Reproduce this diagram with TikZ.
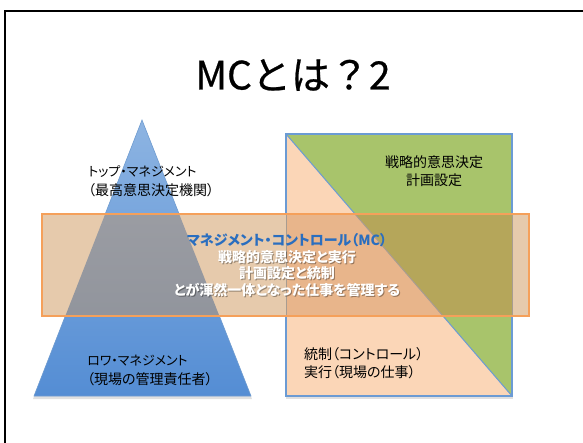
\documentclass[tikz,border=0pt]{standalone}
\usepackage{fontspec}
\newfontfamily\jp{Noto Sans CJK JP}[RawFeature=+palt]
\newfontfamily\jptitle{Noto Sans CJK JP}[FakeBold=0.6]
\definecolor{tritop}{HTML}{8DB4E2}
\definecolor{tribot}{HTML}{548DD4}
\definecolor{triline}{HTML}{6E9BD0}
\definecolor{peach}{HTML}{FBD6B7}
\definecolor{leaf}{HTML}{A8C46B}
\definecolor{rectline}{HTML}{6B9BD4}
\definecolor{bandfill}{HTML}{E6CAAC}
\definecolor{bandline}{HTML}{F5A05A}
\definecolor{graytop}{HTML}{A3A3A8}
\definecolor{graybot}{HTML}{8A8F98}
\definecolor{peachdark}{HTML}{E8B58B}
\definecolor{olive}{HTML}{B5A65A}
\definecolor{mcblue}{HTML}{2A6EBF}
\definecolor{muted}{HTML}{A89C90}
\newcommand\bigline[1]{{\fontsize{14}{19}\selectfont #1}}
\tikzset{
  lbl/.style={font=\jp\fontsize{13}{19}\selectfont, inner sep=0pt, text=black},
  lblr/.style={font=\jp\fontsize{14}{18.5}\selectfont, inner sep=0pt, text=black},
  bandtxt/.style={font=\jp\bfseries\fontsize{14}{16.7}\selectfont, inner sep=0pt, align=center},
  shadowshape/.style={fill=black, opacity=0.12},
}
\begin{document}
\begin{tikzpicture}[x=1pt,y=-1pt]
\useasboundingbox (0,0) rectangle (583,442);
\fill[white] (0,0) rectangle (583,442);
% slide frame
\draw[line width=2.5pt] (5,11) rectangle (600,470);
% title
\node[font=\jptitle\fontsize{39}{44}\selectfont, inner sep=0pt] (title) at (293,75) {MCとは？2};
% pyramid
\fill[shadowshape] (142,122) -- (252,399) -- (33,399) -- cycle;
\shade[top color=tritop, bottom color=tribot] (142,120) -- (251,396) -- (34,396) -- cycle;
\draw[triline, line width=0.6pt] (142,120) -- (251,396) -- (34,396) -- cycle;
% right square
\fill[shadowshape] (286,136) rectangle (513,399);
\fill[peach] (286,134) -- (512,396) -- (286,396) -- cycle;
\fill[leaf] (286,134) -- (512,134) -- (512,396) -- cycle;
\draw[rectline, line width=1.2pt] (286,134) rectangle (512,396);
\draw[rectline, line width=1pt] (286,134) -- (512,396);
% band
\fill[bandfill] (42,214) rectangle (529,316);
\begin{scope}
  \clip (42,214) rectangle (529,316);
  \shade[top color=graytop, bottom color=graybot] (142,120) -- (251,396) -- (34,396) -- cycle;
  \fill[peachdark] (286,134) -- (512,396) -- (286,396) -- cycle;
  \fill[olive] (286,134) -- (512,134) -- (512,396) -- cycle;
  \draw[muted, line width=1pt] (286,134) -- (286,396);
  \draw[muted, line width=1pt] (512,134) -- (512,396);
  \draw[muted, line width=1pt] (286,134) -- (512,396);
\end{scope}
\draw[bandline, line width=1.5pt] (42,214) rectangle (529,316);
% labels
\node[lbl, anchor=west, align=left] (toplbl) at (88,181.5) {トップ・マネジメント\\\bigline{（最高意思決定機関）}};
\node[lblr, align=center] (strat) at (434,171) {戦略的意思決定\\計画設定};
\node[lbl, anchor=west, align=left] (lowlbl) at (87,370) {ロワ・マネジメント\\\bigline{（現場の管理責任者）}};
\node[lblr, anchor=west, align=left] (ctrl) at (304,363) {統制（コントロール）\\実行（現場の仕事）};
% band text
\node[bandtxt, text=black, text opacity=0.35] (mcshadow) at (288,266.2)
  {\textcolor{white}{\phantom{マネジメント・コントロール（MC）}}\\戦略的意思決定と実行\\計画設定と統制\\とが渾然一体となった仕事を管理する};
\node[bandtxt, text=white] (mc) at (287,265)
  {\textcolor{mcblue}{マネジメント・コントロール（MC）}\\戦略的意思決定と実行\\計画設定と統制\\とが渾然一体となった仕事を管理する};
\end{tikzpicture}
\end{document}
